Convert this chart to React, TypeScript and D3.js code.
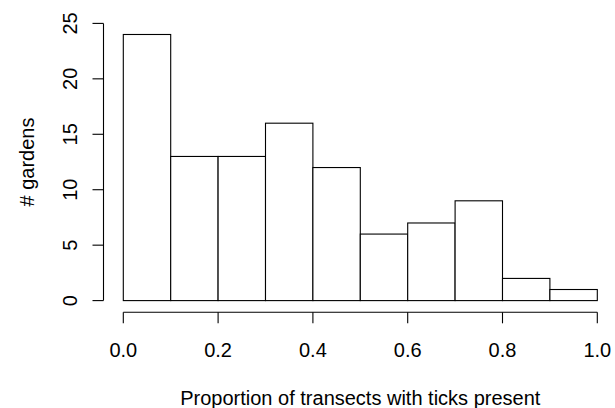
import React from "react";
import * as d3 from "d3";

const binEdges = [0, 0.1, 0.2, 0.3, 0.4, 0.5, 0.6, 0.7, 0.8, 0.9, 1.0];
const counts = [24, 13, 13, 16, 12, 6, 7, 9, 2, 1];
const xTicks = [0, 0.2, 0.4, 0.6, 0.8, 1.0];
const yTicks = [0, 5, 10, 15, 20, 25];

export default function App() {
  const W = 615, H = 408;
  const x = d3.scaleLinear().domain([0, 1]).range([123.3, 597.3]);
  const y = d3.scaleLinear().domain([0, 25]).range([300.6, 23.4]);
  const font = "'Liberation Sans', Arial, sans-serif";
  const axisY = 312.3;
  const axisX = 103.5;
  return (
    <svg width={W} height={H} style={{ position: "absolute", left: 0, top: 0, background: "#fff" }}>
      <g fill="#fff" stroke="#000" strokeWidth={1.1}>
        {counts.map((c, i) => (
          <rect key={i} x={x(binEdges[i])} y={y(c)} width={x(binEdges[i + 1]) - x(binEdges[i])} height={y(0) - y(c)} />
        ))}
      </g>
      <g stroke="#000" strokeWidth={1.1} fill="none">
        <line x1={x(0)} x2={x(1)} y1={axisY} y2={axisY} />
        {xTicks.map((t) => (
          <line key={t} x1={x(t)} x2={x(t)} y1={axisY} y2={axisY + 11} />
        ))}
        <line x1={axisX} x2={axisX} y1={y(0)} y2={y(25)} />
        {yTicks.map((t) => (
          <line key={t} x1={axisX} x2={axisX - 11} y1={y(t)} y2={y(t)} />
        ))}
      </g>
      <g fontFamily={font} fontSize={20} fill="#000">
        {xTicks.map((t) => (
          <text key={t} x={x(t)} y={357} textAnchor="middle">{d3.format(".1f")(t)}</text>
        ))}
        {yTicks.map((t) => (
          <text key={t} transform={`translate(${77},${y(t)}) rotate(-90)`} textAnchor="middle">{t}</text>
        ))}
        <text x={x(0.5)} y={405} textAnchor="middle">Proportion of transects with ticks present</text>
        <text transform={`translate(${34},${y(12.5)}) rotate(-90)`} textAnchor="middle"># gardens</text>
      </g>
    </svg>
  );
}
